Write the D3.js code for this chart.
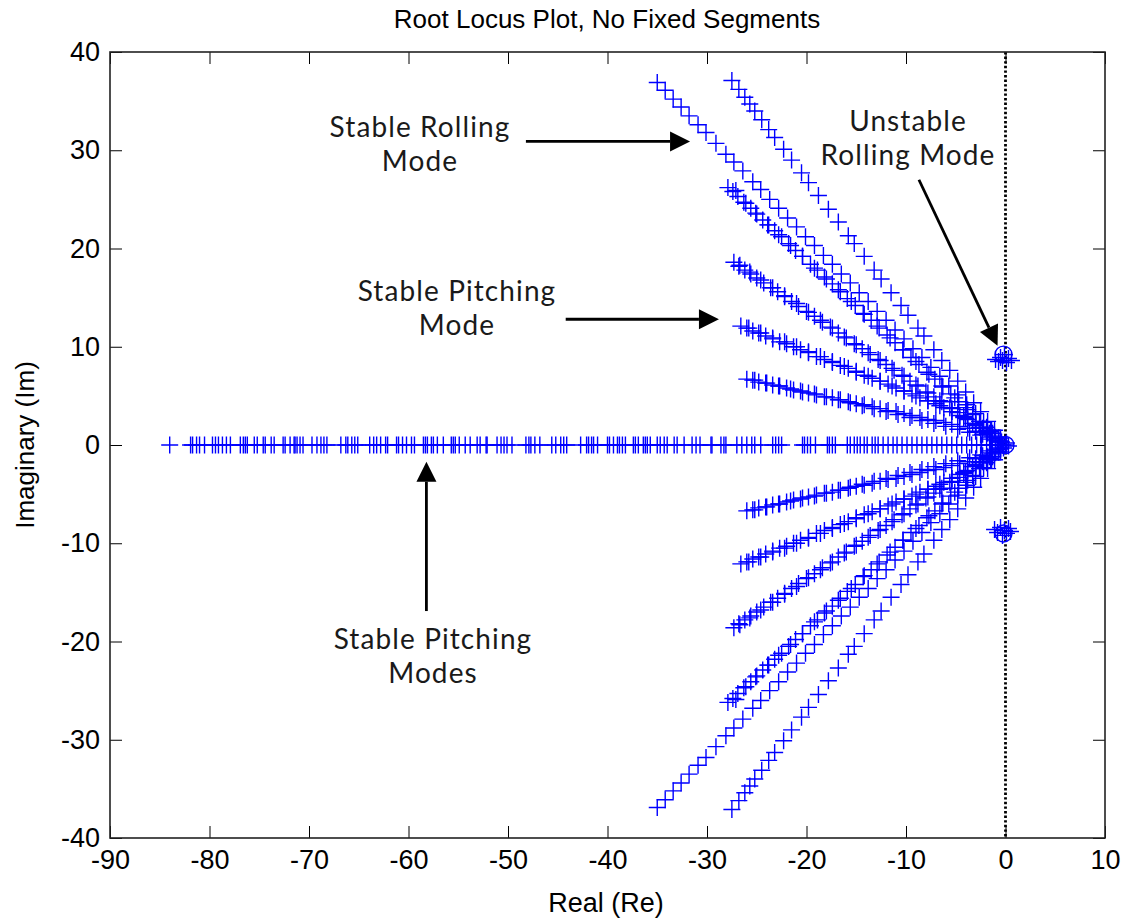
<!DOCTYPE html>
<html>
<head>
<meta charset="utf-8">
<script src="https://cdn.jsdelivr.net/npm/d3@7/dist/d3.min.js"></script>
<style>
  body { margin: 0; background: #fff; }
  svg { display: block; }
</style>
</head>
<body>
<svg id="chart" width="1129" height="920"></svg>
<script>
// ---------------- DATA ----------------
const xTicks = [-90, -80, -70, -60, -50, -40, -30, -20, -10, 0, 10];
const yTicks = [-40, -30, -20, -10, 0, 10, 20, 30, 40];

// Roots on the real axis (Im = 0)
const realAxisRe = [-84.0, -81.9, -81.7, -81.3, -81.0, -80.5, -79.7, -79.4, -79.1, -78.7, -78.3, -77.9,
  -76.9, -76.6, -76.4, -76.2, -75.5, -75.2, -74.6, -74.4, -73.8, -73.5, -72.6, -72.4, -71.9, -71.5,
  -71.4, -71.2, -70.9, -70.6, -69.7, -69.2, -68.8, -68.5, -68.2, -66.8, -66.3, -66.1, -65.7, -65.4,
  -65.1, -63.9, -63.5, -63.2, -62.8, -62.3, -62.1, -61.2, -61.0, -60.6, -60.2, -59.7, -59.4, -58.5,
  -58.3, -58.1, -57.7, -57.5, -57.1, -56.5, -55.7, -55.5, -55.3, -54.9, -54.3, -53.8, -53.1, -52.8,
  -52.2, -52.1, -51.1, -50.7, -50.4, -50.1, -49.6, -48.2, -47.9, -47.7, -47.3, -46.8, -45.6, -45.2,
  -44.7, -44.4, -44.1, -42.7, -42.1, -41.9, -41.6, -41.4, -41.0, -40.0, -39.8, -39.4, -39.0, -38.8,
  -38.5, -38.2, -37.4, -37.2, -36.9, -36.4, -36.2, -36.0, -35.7, -35.0, -34.7, -34.3, -34.0, -33.3,
  -33.0, -32.3, -31.5, -31.1, -30.7, -29.6, -29.5, -28.6, -28.3, -28.1, -27.0, -26.5, -26.0, -25.5,
  -25.2, -24.6, -23.4, -23.1, -22.8, -22.5, -20.4, -20.2, -19.9, -19.6, -19.1, -17.9, -17.7, -17.4,
  -17.1, -15.9, -15.6, -15.2, -14.9, -14.6, -14.2, -13.9, -13.4, -13.1, -12.8, -12.3, -11.8, -11.3,
  -10.9, -10.4, -9.9, -9.4, -8.9, -8.4, -7.9, -7.4, -6.9, -6.4, -5.9, -5.4, -4.9, -4.4, -3.9, -3.4,
  -2.9, -2.4, -1.9, -1.5, -1.0, -0.7, -0.5, -0.3, 0.0];

// Complex branches (upper half-plane); the lower half-plane holds their conjugates
const branchA_re = [-35.0, -34.2, -33.4, -32.6, -31.8, -30.9, -30.1, -29.1, -28.1, -27.3, -26.4, -25.4, -24.6, -23.7, -22.8, -21.9, -21.0, -20.1, -19.2, -18.3, -17.4, -16.5, -15.6, -14.7, -13.8, -12.9, -12.0, -11.1, -10.2, -9.3, -8.4, -7.5, -6.6, -5.7, -4.8, -3.9, -3.0, -2.2, -1.4, -0.7];
const branchA_im = [36.9, 36.1, 35.2, 34.4, 33.5, 32.6, 31.8, 30.7, 29.6, 28.8, 27.9, 26.8, 26.0, 25.0, 24.1, 23.1, 22.2, 21.2, 20.3, 19.3, 18.4, 17.4, 16.5, 15.5, 14.6, 13.6, 12.7, 11.7, 10.8, 9.8, 8.9, 7.9, 7.0, 6.0, 5.1, 4.1, 3.2, 2.3, 1.5, 0.7];

const branchB_re = [-27.5, -26.8, -26.2, -25.7, -25.2, -24.5, -23.8, -23.2, -22.3, -21.5, -20.5, -19.8, -18.8, -17.8, -16.8, -15.8, -15.2, -14.2, -13.2, -12.5, -11.5, -10.5, -9.8, -8.8, -8.2, -7.2, -6.4, -5.6, -4.8, -4.0, -3.2, -2.5, -1.8, -1.1, -0.5];
const branchB_im = [37.1, 36.2, 35.4, 34.7, 34.0, 33.1, 32.1, 31.3, 30.1, 29.0, 27.7, 26.7, 25.4, 24.0, 22.7, 21.3, 20.5, 19.2, 17.8, 16.9, 15.5, 14.2, 13.2, 11.9, 11.1, 9.7, 8.6, 7.6, 6.5, 5.4, 4.3, 3.4, 2.4, 1.5, 0.7];

const branchC_re = [-27.9, -27.4, -26.9, -26.3, -25.6, -25.1, -24.4, -23.8, -23.2, -22.5, -21.8, -21.1, -20.4, -19.6, -18.9, -18.2, -17.4, -16.6, -15.9, -15.1, -14.3, -13.5, -12.7, -11.9, -11.1, -10.3, -9.5, -8.7, -7.9, -7.1, -6.3, -5.5, -4.7, -4.0, -3.3, -2.6, -1.9, -1.3, -0.7];
const branchC_im = [26.2, 25.8, 25.3, 24.7, 24.1, 23.6, 22.9, 22.4, 21.8, 21.2, 20.5, 19.8, 19.2, 18.4, 17.8, 17.1, 16.4, 15.6, 14.9, 14.2, 13.4, 12.7, 11.9, 11.2, 10.4, 9.7, 8.9, 8.2, 7.4, 6.7, 5.9, 5.2, 4.4, 3.8, 3.1, 2.4, 1.8, 1.2, 0.7];
const branchC2_re = [-27.1, -26.1, -25.0, -23.9, -22.8, -21.6, -20.4, -19.2, -18.0, -16.8, -15.5, -14.2, -12.9, -11.6, -10.3, -9.0, -7.7, -6.4, -5.1, -3.8, -2.6, -1.5];
const branchC2_im = [25.9, 24.6, 23.5, 22.4, 21.4, 20.3, 19.2, 18.0, 16.9, 15.8, 14.6, 13.3, 12.1, 10.9, 9.7, 8.5, 7.2, 6.0, 4.8, 3.6, 2.4, 1.4];

const branchD_re = [-27.3, -26.8, -26.2, -25.6, -25.0, -24.3, -23.6, -22.9, -22.2, -21.5, -20.8, -20.0, -19.2, -18.4, -17.6, -16.8, -16.0, -15.2, -14.4, -13.6, -12.8, -12.0, -11.2, -10.4, -9.6, -8.8, -8.0, -7.2, -6.4, -5.6, -4.8, -4.0, -3.3, -2.6, -1.9, -1.3, -0.7];
const branchD_im = [18.6, 18.2, 17.8, 17.4, 17.0, 16.5, 16.0, 15.6, 15.1, 14.6, 14.1, 13.6, 13.1, 12.5, 12.0, 11.4, 10.9, 10.3, 9.8, 9.2, 8.7, 8.2, 7.6, 7.1, 6.5, 6.0, 5.4, 4.9, 4.4, 3.8, 3.3, 2.7, 2.2, 1.8, 1.3, 0.9, 0.5];
const branchD2_re = [-26.7, -25.7, -24.6, -23.4, -22.2, -21.0, -19.8, -18.6, -17.4, -16.2, -15.0, -13.8, -12.6, -11.4, -10.2, -9.0, -7.8, -6.6, -5.4, -4.2, -3.0, -1.8];
const branchD2_im = [18.3, 17.6, 16.8, 16.0, 15.2, 14.4, 13.5, 12.7, 11.9, 11.0, 10.2, 9.4, 8.6, 7.8, 7.0, 6.1, 5.3, 4.5, 3.7, 2.9, 2.0, 1.2];

const branchE_re = [-26.6, -26.0, -25.4, -24.8, -24.1, -23.4, -22.7, -22.0, -21.3, -20.6, -19.8, -19.0, -18.2, -17.4, -16.6, -15.8, -15.0, -14.2, -13.4, -12.6, -11.8, -11.0, -10.2, -9.4, -8.6, -7.8, -7.0, -6.2, -5.4, -4.6, -3.8, -3.0, -2.3, -1.6, -1.0, -0.5];
const branchE_im = [12.1, 11.9, 11.6, 11.4, 11.1, 10.8, 10.5, 10.3, 10.0, 9.7, 9.4, 9.0, 8.7, 8.4, 8.1, 7.8, 7.4, 7.1, 6.8, 6.5, 6.2, 5.8, 5.5, 5.2, 4.8, 4.5, 4.2, 3.8, 3.4, 3.0, 2.6, 2.1, 1.7, 1.2, 0.8, 0.4];
const branchE2_re = [-25.8, -24.6, -23.4, -22.2, -21.0, -19.8, -18.6, -17.4, -16.2, -15.0, -13.8, -12.6, -11.4, -10.2, -9.0, -7.8, -6.6, -5.4, -4.2, -3.0, -1.9];
const branchE2_im = [11.9, 11.4, 10.9, 10.5, 10.0, 9.5, 9.0, 8.5, 8.0, 7.5, 7.0, 6.5, 6.0, 5.5, 5.0, 4.5, 4.0, 3.4, 2.8, 2.2, 1.5];

const branchF_re = [-26.0, -25.4, -24.8, -24.1, -23.4, -22.7, -22.0, -21.3, -20.6, -19.8, -19.0, -18.2, -17.4, -16.6, -15.8, -15.0, -14.2, -13.4, -12.6, -11.8, -11.0, -10.2, -9.4, -8.6, -7.8, -7.0, -6.2, -5.4, -4.6, -3.8, -3.0, -2.3, -1.6, -1.0, -0.5];
const branchF_im = [6.7, 6.6, 6.4, 6.3, 6.1, 6.0, 5.8, 5.6, 5.5, 5.3, 5.1, 4.9, 4.8, 4.6, 4.4, 4.2, 4.1, 3.9, 3.7, 3.5, 3.4, 3.2, 3.0, 2.8, 2.6, 2.5, 2.3, 2.1, 1.9, 1.7, 1.4, 1.1, 0.8, 0.5, 0.3];
const branchF2_re = [-25.2, -24.0, -22.8, -21.6, -20.4, -19.2, -18.0, -16.8, -15.6, -14.4, -13.2, -12.0, -10.8, -9.6, -8.4, -7.2, -6.0, -4.8, -3.6, -2.5, -1.4];
const branchF2_im = [6.6, 6.3, 6.0, 5.7, 5.4, 5.2, 4.9, 4.6, 4.3, 4.0, 3.7, 3.4, 3.1, 2.8, 2.5, 2.2, 1.9, 1.6, 1.3, 1.0, 0.6];

// Unstable rolling mode clusters near the imaginary axis
const rollUpper_re = [-1.0, -0.7, -0.5, -0.3, -0.1, 0.1, 0.3, 0.6];
const rollUpper_im = [8.7, 8.5, 8.9, 8.6, 9.2, 8.4, 8.8, 8.6];
const rollLower_re = [-1.1, -0.8, -0.5, -0.3, -0.1, 0.1, 0.3, 0.5];
const rollLower_im = [-8.6, -8.9, -8.4, -9.2, -8.7, -9.0, -8.5, -8.8];
const originCluster_re = [-0.4, -0.2, 0.1, 0.3];
const originCluster_im = [0.3, -0.3, 0.2, -0.1];

// Open-circle markers
const circles_re = [-0.2, 0.0, -0.2];
const circles_im = [9.2, 0.0, -9.0];

// Annotation texts (multi-line)
const annotations = [
  { lines: ["Stable Rolling", "Mode"], cx: 420, by: 137 },
  { lines: ["Stable Pitching", "Mode"], cx: 457, by: 301 },
  { lines: ["Unstable", "Rolling Mode"], cx: 908, by: 131 },
  { lines: ["Stable Pitching", "Modes"], cx: 433, by: 649 }
];

// ---------------- CHART ----------------
const W = 1129, H = 920;
const margin = { left: 110, right: 24, top: 52, bottom: 82 };
const svg = d3.select("#chart");
const x = d3.scaleLinear().domain([-90, 10]).range([margin.left, W - margin.right]);
const y = d3.scaleLinear().domain([-40, 40]).range([H - margin.bottom, margin.top]);

const BLUE = "#0000ff";
const crossPath = "M-8.5,0H8.5M0,-8.5V8.5";

const zip = (re, im) => re.map((r, i) => [r, im[i]]);
const upperBranches = [
  zip(branchA_re, branchA_im), zip(branchB_re, branchB_im),
  zip(branchC_re, branchC_im), zip(branchC2_re, branchC2_im),
  zip(branchD_re, branchD_im), zip(branchD2_re, branchD2_im),
  zip(branchE_re, branchE_im), zip(branchE2_re, branchE2_im),
  zip(branchF_re, branchF_im), zip(branchF2_re, branchF2_im)
];
let pts = realAxisRe.map(r => [r, 0]);
upperBranches.forEach(b => {
  b.forEach(p => { pts.push([p[0], p[1]]); pts.push([p[0], -p[1]]); });
});
pts = pts.concat(zip(rollUpper_re, rollUpper_im), zip(rollLower_re, rollLower_im),
                 zip(originCluster_re, originCluster_im));

const plot = svg.append("g");

// dotted imaginary axis
plot.append("line")
  .attr("x1", x(0)).attr("x2", x(0))
  .attr("y1", y(40)).attr("y2", y(-40))
  .attr("stroke", "#000").attr("stroke-width", 2.8)
  .attr("stroke-dasharray", "2.4,2.2");

plot.append("g").selectAll("path").data(pts).join("path")
  .attr("d", crossPath)
  .attr("transform", d => `translate(${x(d[0])},${y(d[1])})`)
  .attr("fill", "none").attr("stroke", BLUE).attr("stroke-width", 1.4);

plot.append("g").selectAll("circle").data(zip(circles_re, circles_im)).join("circle")
  .attr("cx", d => x(d[0])).attr("cy", d => y(d[1])).attr("r", 8.5)
  .attr("fill", "none").attr("stroke", BLUE).attr("stroke-width", 1.4);

// axes
const tickFont = "'Liberation Sans', Arial, sans-serif";
const axB = svg.append("g").attr("transform", `translate(0,${y(-40)})`)
  .call(d3.axisBottom(x).tickValues(xTicks).tickSize(-12).tickPadding(12).tickFormat(d3.format("d")));
const axL = svg.append("g").attr("transform", `translate(${x(-90)},0)`)
  .call(d3.axisLeft(y).tickValues(yTicks).tickSize(-12).tickPadding(10).tickFormat(d3.format("d")));
const axT = svg.append("g").attr("transform", `translate(0,${y(40)})`)
  .call(d3.axisTop(x).tickValues(xTicks).tickSize(-12).tickFormat(""));
const axR = svg.append("g").attr("transform", `translate(${x(10)},0)`)
  .call(d3.axisRight(y).tickValues(yTicks).tickSize(-12).tickFormat(""));
[axB, axL, axT, axR].forEach(a => {
  a.select(".domain").remove();
  a.selectAll("line").attr("stroke", "#000").attr("stroke-width", 1);
  a.selectAll("text").attr("font-family", tickFont).attr("font-size", 27).attr("fill", "#000");
});
d3.selectAll(".tick text").text(function () { return this.textContent.replace("−", "-"); });

svg.append("rect")
  .attr("x", x(-90)).attr("y", y(40))
  .attr("width", x(10) - x(-90)).attr("height", y(-40) - y(40))
  .attr("fill", "none").attr("stroke", "#222").attr("stroke-width", 1.6);

// title and axis labels
svg.append("text").attr("x", 607).attr("y", 28).attr("text-anchor", "middle")
  .attr("font-family", tickFont).attr("font-size", 26).text("Root Locus Plot, No Fixed Segments");
svg.append("text").attr("x", 606).attr("y", 912).attr("text-anchor", "middle")
  .attr("font-family", tickFont).attr("font-size", 27).text("Real (Re)");
svg.append("text").attr("transform", `translate(34,${y(0)}) rotate(-90)`).attr("text-anchor", "middle")
  .attr("font-family", tickFont).attr("font-size", 26).text("Imaginary (Im)");

// annotations: one text element per label, lines as tspans
const annFont = "Lato, 'Open Sans', sans-serif";
const annG = svg.append("g");
annotations.forEach(a => {
  const t = annG.append("text").attr("x", a.cx).attr("y", a.by).attr("text-anchor", "middle")
    .attr("font-family", annFont).attr("font-size", 28).attr("letter-spacing", 1.1)
    .attr("fill", "#1a1a1a");
  a.lines.forEach((ln, i) => {
    t.append("tspan").attr("x", a.cx).attr("dy", i === 0 ? 0 : 34).text(ln);
  });
});

// arrows given in data coordinates [fromRe, fromIm, toRe, toIm]
const arrows = [
  [-48.2, 30.9, -31.7, 30.9],
  [-44.2, 12.8, -28.8, 12.8],
  [-8.7, 27.0, -0.8, 10.1],
  [-58.2, -16.9, -58.2, -1.7]
];
const ag = svg.append("g");
arrows.forEach(a => {
  const x1 = x(a[0]), y1 = y(a[1]), x2 = x(a[2]), y2 = y(a[3]);
  const L = Math.hypot(x2 - x1, y2 - y1), ux = (x2 - x1) / L, uy = (y2 - y1) / L;
  const hl = 20, hw = 10;
  const bx = x2 - ux * hl, by = y2 - uy * hl;
  ag.append("line").attr("x1", x1).attr("y1", y1).attr("x2", bx).attr("y2", by)
    .attr("stroke", "#000").attr("stroke-width", 2.8);
  ag.append("path")
    .attr("d", `M${x2},${y2}L${bx - uy * hw},${by + ux * hw}L${bx + uy * hw},${by - ux * hw}Z`)
    .attr("fill", "#000");
});
</script>
</body>
</html>
